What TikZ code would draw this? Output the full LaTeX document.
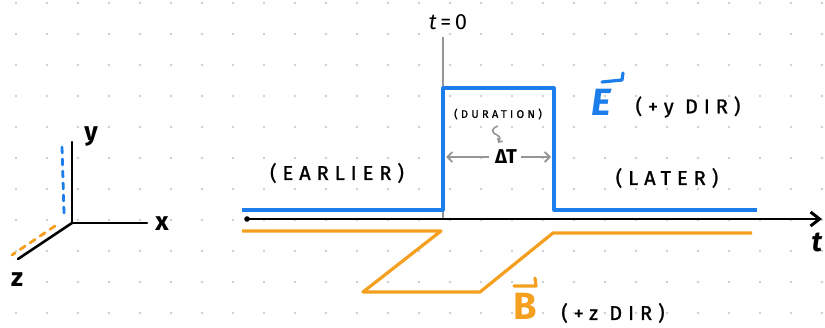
\documentclass[tikz,border=0pt]{standalone}
\usepackage{fontspec}
\setmainfont{Fira Sans}
\newfontfamily\handfont[LetterSpace=30,FakeBold=1.2]{Fira Sans}
\usetikzlibrary{arrows.meta}
\definecolor{fieldblue}  {RGB}{28,126,234}
\definecolor{fieldorange}{RGB}{245,159,30}
\definecolor{gridgray}   {RGB}{205,205,205}
\definecolor{notegray}   {RGB}{150,150,150}

\begin{document}
\begin{tikzpicture}[
  x=1pt, y=-1pt,
  every node/.style={inner sep=0pt},
  hand/.style={font=\handfont\fontsize{20}{20}\selectfont},
  tinyhand/.style={font=\handfont\fontsize{11}{11}\selectfont},
  axlbl/.style={font=\bfseries\fontsize{26}{26}\selectfont},
  bigletter/.style={font=\bfseries\fontsize{38}{38}\selectfont},
  efield/.style={draw=fieldblue, line width=3.2pt, line join=round},
  bfield/.style={draw=fieldorange, line width=3.2pt, line join=round},
  axisline/.style={draw=black, line width=2.6pt, line cap=round},
  compline/.style={line width=2.8pt, dash pattern=on 6pt off 6pt, line cap=round},
  vecbar/.style={line width=3.2pt, line cap=round, line join=round},
  dimarr/.style={notegray, line width=1.8pt, -{Straight Barb[length=5pt]}},
]
\useasboundingbox (0,0) rectangle (825,328);

% dotted paper
\foreach \i in {0,...,26}
  \foreach \j in {0,...,10}
    \fill[gridgray] (16+31*\i,3+31*\j) circle (1.4pt);

% xyz frame
\coordinate (orig) at (72,223);
\coordinate (yend) at (72,142);
\coordinate (xend) at (147,223);
\coordinate (zend) at (18,259);
\draw[axisline] (orig) -- (yend);
\draw[axisline] (orig) -- (xend);
\draw[axisline] (orig) -- (zend);
\draw[compline, fieldblue] (62,147) -- (64,213);
\draw[compline, fieldorange] (55,226) -- (12,255);
\node[axlbl] (xlbl) at (162,224) {x};
\node[axlbl] (ylbl) at (91,136) {y};
\node[axlbl] (zlbl) at (17,280) {z};

% time axis
\coordinate (tstart) at (247,219);
\coordinate (tend) at (822,219);
\coordinate (tzerotop) at (443,37);
\coordinate (tzerobot) at (443,219);
\draw[notegray, line width=1.2pt] (tzerotop) -- (tzerobot);
\draw[axisline, -{Straight Barb[length=9pt,width=14pt,line width=3pt]}] (tstart) -- (tend);
\fill (tstart) circle (2.8pt);
\node[font=\bfseries\itshape\fontsize{28}{28}\selectfont] (tlbl) at (817,242) {t};
\node[font=\fontsize{22}{22}\selectfont] (tzero) at (448,22) {\textit{t}\,=\,0};

% E pulse
\draw[efield] (242,210) -- (443,210) -- (443,88) -- (554,88) -- (554,210) -- (757,210);
% B pulse
\draw[bfield] (242,231) -- (441,231) -- (363,292) -- (480,292) -- (553,233) -- (752,233);

% labels
\node[hand] (earlier) at (337,173) {(EARLIER)};
\node[hand] (later) at (667,178) {(LATER)};
\node[tinyhand] (duration) at (498,114) {(DURATION)};
\node[font=\bfseries\fontsize{20}{20}\selectfont] (dT) at (506,157) {ΔT};
\coordinate (pulseL) at (446,157);
\coordinate (pulseR) at (551,157);
\draw[dimarr] ([xshift=-6pt]dT.west) -- (pulseL);
\draw[dimarr] ([xshift=4pt]dT.east) -- (pulseR);
\draw[notegray, line width=1.6pt, -{Straight Barb[length=3pt]}]
  (498,126) .. controls (490,129) and (492,133) .. (497,135)
            .. controls (501,137) and (500,140) .. (498,143);

% field names
\node[bigletter, text=fieldblue] (Elbl) at (601,102) {\itshape E};
\draw[vecbar, fieldblue] (602,82) -- (622,80) -- (623,73);
\node[hand] (Edir) at (688,107) {(+y DIR)};
\node[bigletter, text=fieldorange] (Blbl) at (525,306) {B};
\draw[vecbar, fieldorange] (514,286) -- (536,286) -- (535,278);
\node[hand] (Bdir) at (613,313) {(+z DIR)};
\end{tikzpicture}
\end{document}
